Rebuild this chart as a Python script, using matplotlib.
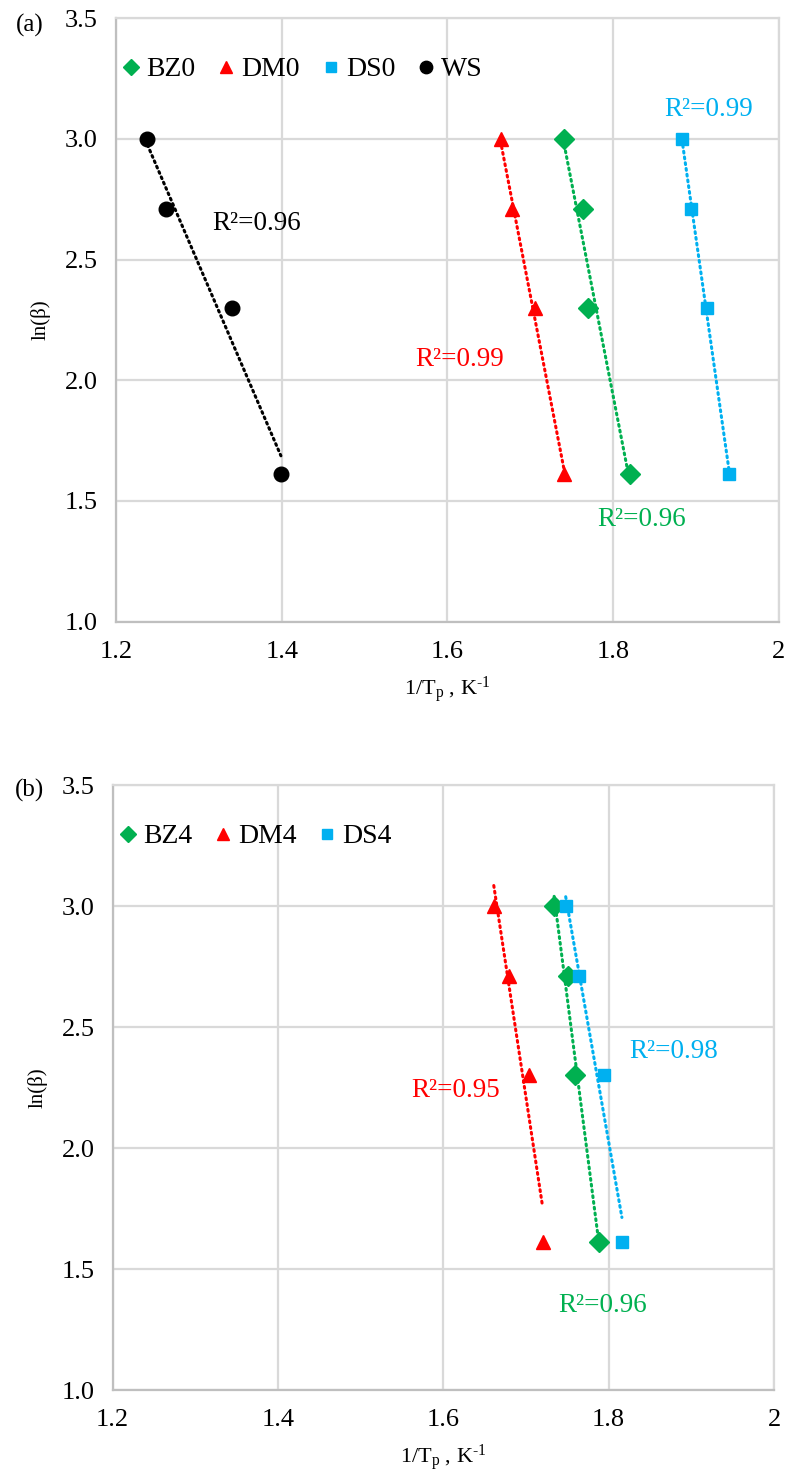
import numpy as np
import matplotlib
matplotlib.use("Agg")
import matplotlib.pyplot as plt
from matplotlib.lines import Line2D

plt.rcParams['font.family'] = ['Liberation Serif', 'DejaVu Serif']
plt.rcParams['mathtext.fontset'] = 'custom'
plt.rcParams['mathtext.rm'] = 'Liberation Serif'
plt.rcParams['mathtext.it'] = 'Liberation Serif:italic'

# ln(beta) for the four heating rates (same for every sample)
ln_beta = [3.00, 2.71, 2.30, 1.61]

# panel (a): 1/Tp values
x_bz0 = [1.741, 1.763, 1.769, 1.820]
x_dm0 = [1.664, 1.678, 1.705, 1.741]
x_ds0 = [1.883, 1.894, 1.913, 1.940]
x_ws = [1.238, 1.260, 1.340, 1.399]

# panel (b): 1/Tp values
x_bz4 = [1.734, 1.751, 1.759, 1.788]
x_dm4 = [1.661, 1.680, 1.704, 1.720]
x_ds4 = [1.748, 1.764, 1.794, 1.816]

GREEN, RED, BLUE, BLACK = '#00B050', '#FF0000', '#00B0F0', '#000000'
series_a = [("BZ0", x_bz0, GREEN, 'D', 10), ("DM0", x_dm0, RED, '^', 10.5),
            ("DS0", x_ds0, BLUE, 's', 8.5), ("WS", x_ws, BLACK, 'o', 10.5)]
series_b = [("BZ4", x_bz4, GREEN, 'D', 10), ("DM4", x_dm4, RED, '^', 10.5),
            ("DS4", x_ds4, BLUE, 's', 8.5)]

# R^2 annotations: (text, x, y, colour)
r2_a = [("R²=0.96", 1.316, 2.65, BLACK), ("R²=0.99", 1.561, 2.084, RED),
        ("R²=0.96", 1.781, 1.425, GREEN), ("R²=0.99", 1.861, 3.123, BLUE)]
r2_b = [("R²=0.95", 1.561, 2.237, RED), ("R²=0.98", 1.825, 2.398, BLUE),
        ("R²=0.96", 1.739, 1.349, GREEN)]

xticks = [1.2, 1.4, 1.6, 1.8, 2.0]
xticklabels = ['1.2', '1.4', '1.6', '1.8', '2']
yticks = [1.0, 1.5, 2.0, 2.5, 3.0, 3.5]

fig = plt.figure(figsize=(7.87, 14.77), dpi=100)
ax_a = fig.add_axes([0.1474, 0.5791, 0.8424, 0.4086])
ax_b = fig.add_axes([0.1432, 0.0589, 0.8403, 0.4096])


def draw(ax, series, r2, tag, tag_y):
    handles = []
    for name, xs, col, mk, ms in series:
        xs = np.array(xs)
        ys = np.array(ln_beta)
        k, b = np.polyfit(xs, ys, 1)
        xl = np.array([xs.min(), xs.max()])
        ax.plot(xl, k * xl + b, color=col, lw=2.2, linestyle=(0, (0.6, 1.3)),
                dash_capstyle='round', zorder=3)
        ax.plot(xs, ys, linestyle='none', marker=mk, ms=ms, color=col,
                mec=col, zorder=4)
        handles.append(Line2D([], [], linestyle='none', marker=mk, color=col,
                              ms=ms * 0.85, label=name))
    for txt, tx, ty, col in r2:
        ax.text(tx, ty, txt, color=col, fontsize=19.5, ha='left', va='center')
    ax.set_xlim(1.2, 2.0)
    ax.set_ylim(1.0, 3.5)
    ax.set_xticks(xticks)
    ax.set_xticklabels(xticklabels)
    ax.set_yticks(yticks)
    ax.set_yticklabels([f'{v:.1f}' for v in yticks])
    ax.tick_params(length=0, labelsize=19, pad=13)
    ax.tick_params(axis='x', pad=14)
    ax.grid(color='#D9D9D9', lw=1.6)
    ax.set_axisbelow(True)
    for s in ax.spines.values():
        s.set_color('#D9D9D9')
        s.set_linewidth(1.6)
    ax.spines['left'].set_color('#BFBFBF')
    ax.spines['bottom'].set_color('#BFBFBF')
    ax.set_xlabel(r'1/T$_\mathrm{p}$ , K$^{\text{-1}}$', fontsize=16, labelpad=8)
    ax.set_ylabel('ln(β)', fontsize=15, labelpad=10)
    ax.legend(handles=handles, ncol=len(handles), loc='upper left',
              bbox_to_anchor=(0.0, 0.945), frameon=False, fontsize=20,
              handlelength=0.7, handletextpad=0.2, columnspacing=0.75,
              borderpad=0.2, borderaxespad=0.0)
    fig.text(30 / 787, 1 - tag_y / 1477, tag, fontsize=18, ha='center', va='center')


draw(ax_a, series_a, r2_a, '(a)', 25)
draw(ax_b, series_b, r2_b, '(b)', 790)

fig.savefig('out.png', dpi=100)
